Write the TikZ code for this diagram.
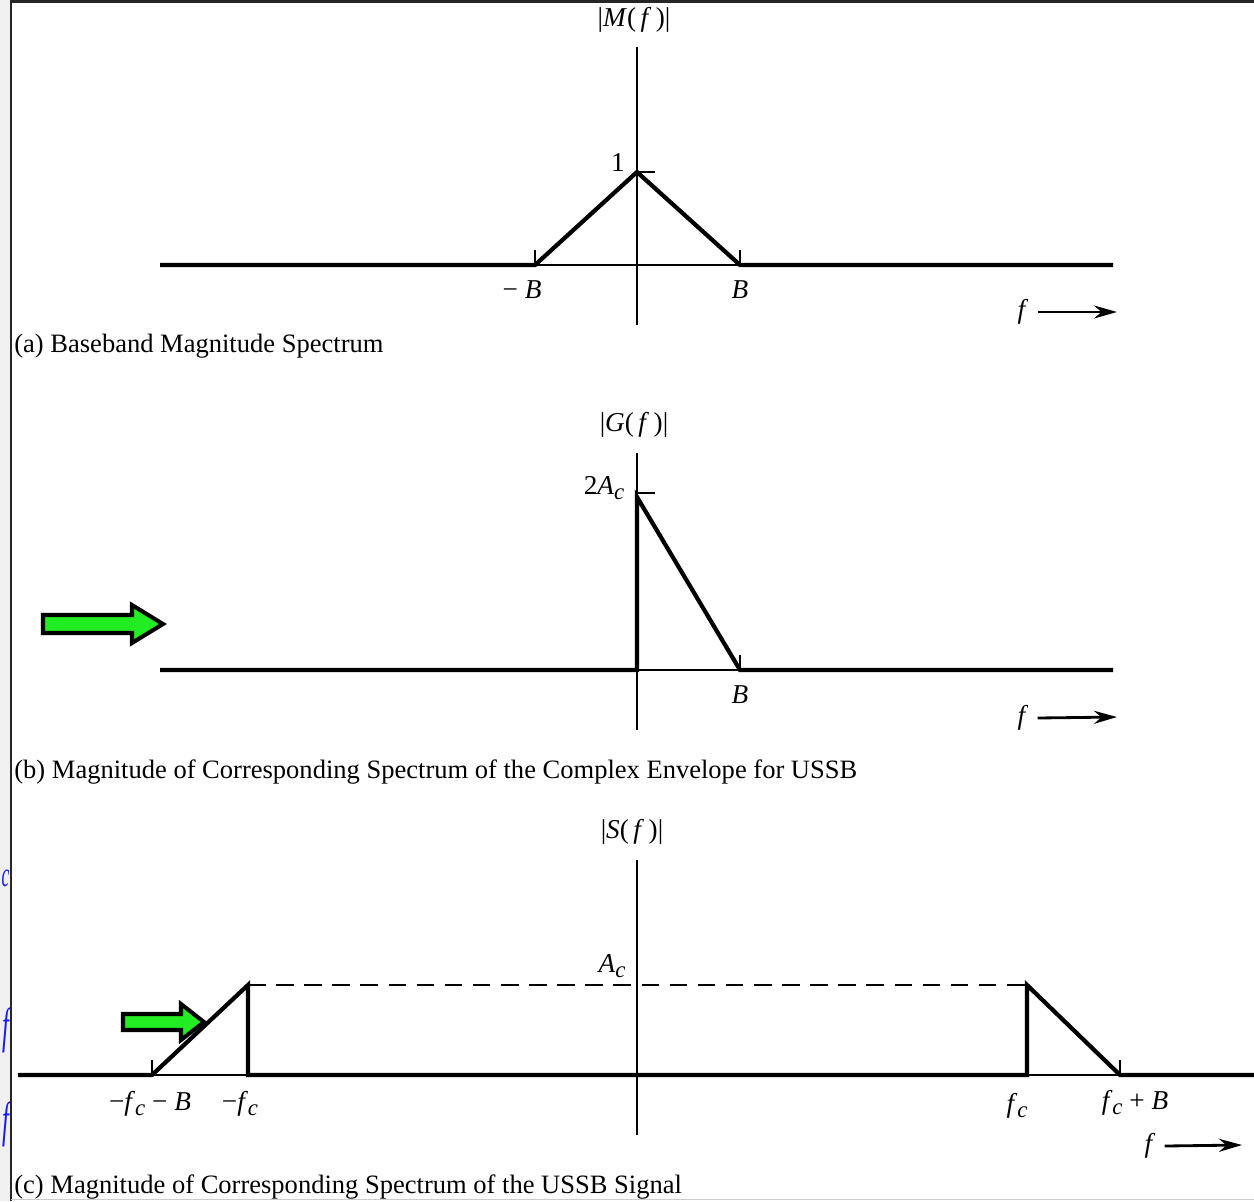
\documentclass[tikz,border=0pt]{standalone}
\usepackage{fontspec}
\setmainfont{Liberation Serif}
\usetikzlibrary{arrows.meta}
\definecolor{arrowgreen}{RGB}{34,236,34}
\definecolor{noteblue}{RGB}{25,25,250}
\newcommand{\subc}{\raisebox{-0.35ex}{\fontsize{13}{13}\selectfont\textit{c}}}

\begin{document}
\begin{tikzpicture}[
                >={Stealth[length=4.6mm,width=2.6mm]},
                x=0.02cm,
                y=-0.02cm,
                spec/.style={line width=2.4pt, line join=miter},
                axisline/.style={line width=0.8pt},
                lbl/.style={font=\fontsize{15.5}{18}\selectfont, inner sep=0pt},
                caption/.style={font=\fontsize{15.1}{18}\selectfont, anchor=base west, inner sep=0pt},
                greenarrow/.style={fill=arrowgreen, draw=black, line width=2.3pt, line join=miter},
                fragment/.style={text=noteblue, inner sep=0pt, xscale=0.5},
            ]

            \useasboundingbox (0,0) rectangle (1254,1201);
            \fill[gray!12] (0,0) rectangle (10,1201);
            \node[fragment, font=\fontsize{20}{22}\selectfont\itshape] (frag1) at (5.5,878) {c};
            \node[fragment, font=\fontsize{28}{30}\selectfont\itshape] (frag2) at (5.5,1030) {f};
            \node[fragment, font=\fontsize{28}{30}\selectfont\itshape] (frag3) at (5.5,1124) {f};
            \draw[line width=1.2pt, black!85] (11,0) -- (11,1201);
            \draw[line width=1.2pt, black!85] (11,1.5) -- (1254,1.5);
            \draw[line width=0.6pt, gray!40] (11,1199.5) -- (1254,1199.5);

            % (a)
            \draw[axisline] (637,47) -- (637,325);
            \draw[axisline] (535,265) -- (740,265);
            \draw[axisline] (535,265) -- (535,250);
            \draw[axisline] (740,265) -- (740,250);
            \draw[axisline] (637,172) -- (655,172);
            \draw[spec] (160,265) -- (535,265) -- (637,172) -- (740,265) -- (1113,265);
            \node[lbl] (magM) at (634,20) {|\textit{M}(\,\textit{f}\,)|};
            \node[lbl] (one) at (618,163) {1};
            \node[lbl] (negBa) at (522,290) {− \textit{B}};
            \node[lbl] (posBa) at (740,290) {\textit{B}};
            \node[lbl] (fa) at (1023,312) {\textit{f}};
            \draw[->, line width=1.6pt] (fa.east) ++(9,0) -- (1117,312);
            \node[caption] (capa) at (14,352) {(a) Baseband Magnitude Spectrum};

            % (b)
            \draw[greenarrow] (43,615) -- (132,615) -- (132,605) -- (163,624) -- (132,643) -- (132,633) -- (43,633) -- cycle;
            \draw[axisline] (637,453) -- (637,730);
            \draw[axisline] (637,670) -- (740,670);
            \draw[axisline] (740,670) -- (740,655);
            \draw[axisline] (637,493) -- (655,493);
            \draw[spec] (160,670) -- (637,670) -- (637,497) -- (740,670) -- (1113,670);
            \node[lbl] (magG) at (634,425) {|\textit{G}(\,\textit{f}\,)|};
            \node[lbl] (twoAc) at (604,488) {2\textit{A}\subc};
            \node[lbl] (posBb) at (740,695) {\textit{B}};
            \node[lbl] (fb) at (1023,718) {\textit{f}};
            \draw[->, line width=1.6pt] (fb.east) ++(9,0) -- (1117,717);
            \node[caption] (capb) at (14,778) {(b) Magnitude of Corresponding Spectrum of the Complex Envelope for USSB};

            % (c)
            \draw[greenarrow] (123,1014) -- (181,1014) -- (181,1004) -- (204,1022) -- (181,1040) -- (181,1030) -- (123,1030) -- cycle;
            \draw[axisline] (637,860) -- (637,1135);
            \draw[axisline, dashed, dash pattern=on 10pt off 6pt] (248,985) -- (1027,985);
            \draw[axisline] (152,1075) -- (248,1075);
            \draw[axisline] (1027,1075) -- (1120,1075);
            \draw[axisline] (152,1075) -- (152,1060);
            \draw[axisline] (1120,1075) -- (1120,1060);
            \draw[spec] (18,1075) -- (152,1075) -- (248,985) -- (248,1075) -- (1027,1075) -- (1027,985) -- (1120,1075) -- (1254,1075);
            \node[lbl] (magS) at (632,832) {|\textit{S}(\,\textit{f}\,)|};
            \node[lbl] (Ac) at (612,966) {\textit{A}\subc};
            \node[lbl] (negfcB) at (150,1104) {−\textit{f}\subc\ − \textit{B}};
            \node[lbl] (negfc) at (240,1104) {−\textit{f}\subc};
            \node[lbl] (posfc) at (1017,1106) {\textit{f}\subc};
            \node[lbl] (posfcB) at (1135,1103) {\textit{f}\subc\ + \textit{B}};
            \node[lbl] (fc) at (1150,1146) {\textit{f}};
            \draw[->, line width=1.6pt] (fc.east) ++(9,0) -- (1242,1145);
            \node[caption] (capc) at (14,1193) {(c) Magnitude of Corresponding Spectrum of the USSB Signal};

            \end{tikzpicture}
\end{document}
